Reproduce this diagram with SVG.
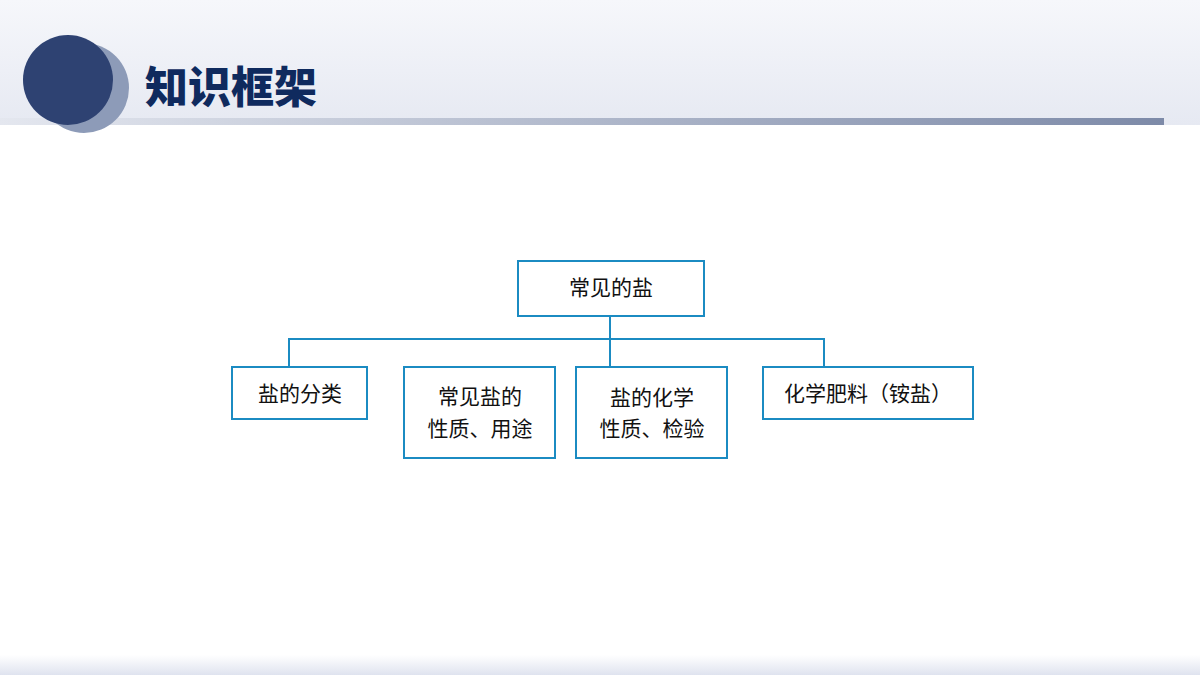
<svg xmlns="http://www.w3.org/2000/svg" width="1200" height="675" viewBox="0 0 1200 675">
<defs>
<linearGradient id="hd" x1="0" y1="0" x2="0" y2="1"><stop offset="0" stop-color="#f6f7fb"/><stop offset="1" stop-color="#e6e9f2"/></linearGradient>
<linearGradient id="ln" x1="0" y1="0" x2="1" y2="0"><stop offset="0" stop-color="#e4e7ef"/><stop offset="1" stop-color="#7d8aa8"/></linearGradient>
<linearGradient id="ft" x1="0" y1="0" x2="0" y2="1"><stop offset="0" stop-color="#ffffff"/><stop offset="1" stop-color="#dfe3ef"/></linearGradient>
<style>
.b{fill:#fff;stroke:#1b8bc2;stroke-width:2}
.t{font-family:"Liberation Serif","Noto Sans CJK SC",serif;font-size:21px;fill:#111;text-anchor:middle}
.c{fill:none;stroke:#1b8bc2;stroke-width:2}
</style>
</defs>
<rect width="1200" height="675" fill="#fff"/>
<rect width="1200" height="125" fill="url(#hd)"/>
<rect x="0" y="118" width="1164" height="7" fill="url(#ln)"/>
<rect x="0" y="655" width="1200" height="20" fill="url(#ft)"/>
<circle cx="84" cy="88" r="45" fill="#8d9bb8"/>
<circle cx="68" cy="80" r="45" fill="#2e4272"/>
<text x="145" y="103" font-family="'Noto Sans CJK SC',sans-serif" font-weight="900" font-size="43" fill="#0f2a5e">知识框架</text>
<g id="connectors">
<path class="c" d="M610 316V367M289 367V339H824V367"/>
</g>
<g id="root"><rect class="b" x="518" y="261" width="186" height="55"/><text class="t" x="611" y="295">常见的盐</text></g>
<g id="n1"><rect class="b" x="232" y="367" width="135" height="52"/><text class="t" x="300" y="401">盐的分类</text></g>
<g id="n2"><rect class="b" x="404" y="367" width="151" height="91"/><text class="t" x="480" y="404">常见盐的</text><text class="t" x="480" y="436">性质、用途</text></g>
<g id="n3"><rect class="b" x="576" y="367" width="151" height="91"/><text class="t" x="652" y="405">盐的化学</text><text class="t" x="652" y="436">性质、检验</text></g>
<g id="n4"><rect class="b" x="763" y="367" width="210" height="52"/><text class="t" x="868" y="401">化学肥料（铵盐）</text></g>
</svg>
